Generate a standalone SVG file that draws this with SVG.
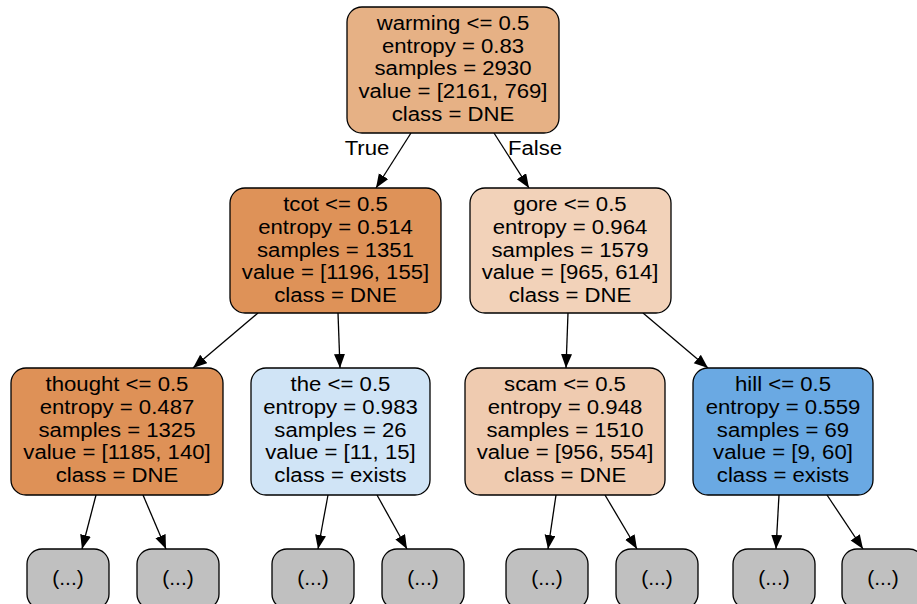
<svg xmlns="http://www.w3.org/2000/svg" width="917" height="604" viewBox="0 0 917 604">
<defs>
<style>
.box{stroke:#000;stroke-width:1.3}
text{font-family:"Liberation Sans",Arial,sans-serif;font-size:21px;fill:#000;text-anchor:middle}
.edge{stroke:#000;stroke-width:1.3;fill:none;marker-end:url(#ah)}
.leaf{fill:#c0c0c0}
</style>
<marker id="ah" markerUnits="userSpaceOnUse" markerWidth="15" markerHeight="12" refX="14" refY="5.5" orient="auto">
<path d="M0,0 L14,5.5 L0,11 z" fill="#000"/>
</marker>
</defs>
<rect width="917" height="604" fill="#fff"/>
<g id="connectors">
<line class="edge" x1="411" y1="133" x2="376" y2="188"/>
<line class="edge" x1="494" y1="133" x2="529" y2="188"/>
<line class="edge" x1="258" y1="313" x2="193" y2="368"/>
<line class="edge" x1="338" y1="313" x2="340" y2="368"/>
<line class="edge" x1="568" y1="313" x2="566" y2="368"/>
<line class="edge" x1="643" y1="313" x2="708" y2="368"/>
<line class="edge" x1="96" y1="495" x2="82" y2="549"/>
<line class="edge" x1="143" y1="495" x2="166" y2="549"/>
<line class="edge" x1="328" y1="495" x2="318" y2="549"/>
<line class="edge" x1="377" y1="495" x2="407" y2="549"/>
<line class="edge" x1="556" y1="495" x2="548" y2="549"/>
<line class="edge" x1="605" y1="495" x2="637" y2="549"/>
<line class="edge" x1="779" y1="495" x2="776" y2="549"/>
<line class="edge" x1="827" y1="495" x2="863" y2="549"/>
<g transform="translate(367 0) scale(1.055 1)"><text x="0" y="155">True</text></g>
<g transform="translate(535 0) scale(1.055 1)"><text x="0" y="155">False</text></g>
</g>
<g id="n0">
<rect class="box" x="347" y="7" width="212" height="126" rx="15" fill="#e6b185"/>
<g transform="translate(453 0) scale(1.055 1)">
<text x="0" y="30">warming &lt;= 0.5</text>
<text x="0" y="53">entropy = 0.83</text>
<text x="0" y="75.5">samples = 2930</text>
<text x="0" y="98">value = [2161, 769]</text>
<text x="0" y="121">class = DNE</text>
</g>
</g>
<g id="n1">
<rect class="box" x="230" y="188" width="211" height="125" rx="15" fill="#de9258"/>
<g transform="translate(335.5 0) scale(1.055 1)">
<text x="0" y="211.5">tcot &lt;= 0.5</text>
<text x="0" y="234">entropy = 0.514</text>
<text x="0" y="257">samples = 1351</text>
<text x="0" y="279.5">value = [1196, 155]</text>
<text x="0" y="302">class = DNE</text>
</g>
</g>
<g id="n2">
<rect class="box" x="470" y="188" width="201" height="125" rx="15" fill="#f2d2b9"/>
<g transform="translate(570 0) scale(1.055 1)">
<text x="0" y="211.5">gore &lt;= 0.5</text>
<text x="0" y="234">entropy = 0.964</text>
<text x="0" y="257">samples = 1579</text>
<text x="0" y="279.5">value = [965, 614]</text>
<text x="0" y="302">class = DNE</text>
</g>
</g>
<g id="n3">
<rect class="box" x="11" y="368" width="212" height="127" rx="15" fill="#de9157"/>
<g transform="translate(117 0) scale(1.055 1)">
<text x="0" y="391.5">thought &lt;= 0.5</text>
<text x="0" y="414">entropy = 0.487</text>
<text x="0" y="437">samples = 1325</text>
<text x="0" y="459.5">value = [1185, 140]</text>
<text x="0" y="482.5">class = DNE</text>
</g>
</g>
<g id="n4">
<rect class="box" x="251" y="368" width="179" height="127" rx="15" fill="#d0e4f6"/>
<g transform="translate(340.5 0) scale(1.055 1)">
<text x="0" y="391.5">the &lt;= 0.5</text>
<text x="0" y="414">entropy = 0.983</text>
<text x="0" y="437">samples = 26</text>
<text x="0" y="459.5">value = [11, 15]</text>
<text x="0" y="482.5">class = exists</text>
</g>
</g>
<g id="n5">
<rect class="box" x="465" y="368" width="200" height="127" rx="15" fill="#efcbb0"/>
<g transform="translate(565 0) scale(1.055 1)">
<text x="0" y="391.5">scam &lt;= 0.5</text>
<text x="0" y="414">entropy = 0.948</text>
<text x="0" y="437">samples = 1510</text>
<text x="0" y="459.5">value = [956, 554]</text>
<text x="0" y="482.5">class = DNE</text>
</g>
</g>
<g id="n6">
<rect class="box" x="693" y="368" width="180" height="127" rx="15" fill="#6aa9e3"/>
<g transform="translate(783 0) scale(1.055 1)">
<text x="0" y="391.5">hill &lt;= 0.5</text>
<text x="0" y="414">entropy = 0.559</text>
<text x="0" y="437">samples = 69</text>
<text x="0" y="459.5">value = [9, 60]</text>
<text x="0" y="482.5">class = exists</text>
</g>
</g>
<g id="l1"><rect class="box leaf" x="27" y="549" width="82" height="60" rx="15"/><text x="68" y="585">(...)</text></g>
<g id="l2"><rect class="box leaf" x="137" y="549" width="82" height="60" rx="15"/><text x="178" y="585">(...)</text></g>
<g id="l3"><rect class="box leaf" x="272" y="549" width="82" height="60" rx="15"/><text x="313" y="585">(...)</text></g>
<g id="l4"><rect class="box leaf" x="382" y="549" width="82" height="60" rx="15"/><text x="423" y="585">(...)</text></g>
<g id="l5"><rect class="box leaf" x="506" y="549" width="82" height="60" rx="15"/><text x="547" y="585">(...)</text></g>
<g id="l6"><rect class="box leaf" x="616" y="549" width="82" height="60" rx="15"/><text x="657" y="585">(...)</text></g>
<g id="l7"><rect class="box leaf" x="733" y="549" width="82" height="60" rx="15"/><text x="774" y="585">(...)</text></g>
<g id="l8"><rect class="box leaf" x="842" y="549" width="82" height="60" rx="15"/><text x="883" y="585">(...)</text></g>
</svg>
